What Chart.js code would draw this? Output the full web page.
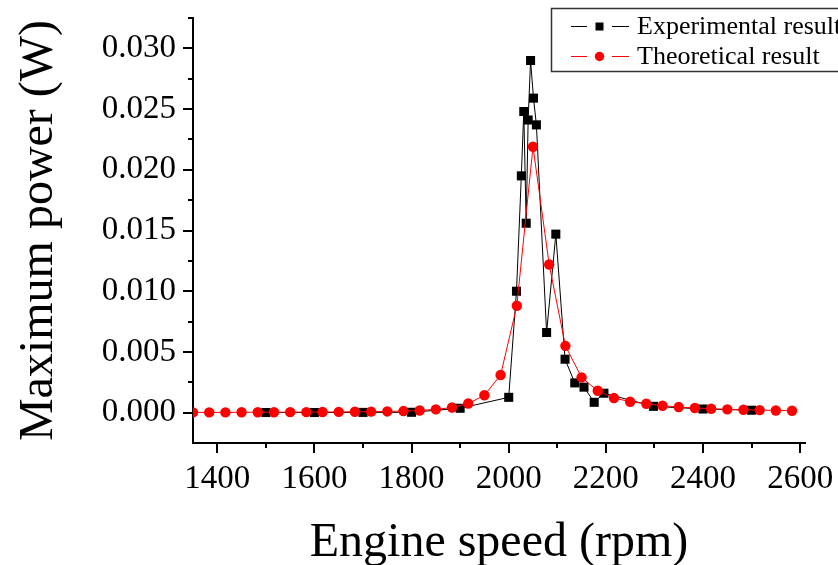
<!DOCTYPE html>
<html>
<head>
<meta charset="utf-8">
<script src="https://cdn.jsdelivr.net/npm/chart.js@4.4.0/dist/chart.umd.min.js"></script>
<style>
  html, body { margin: 0; padding: 0; background: #fff; }
  canvas { display: block; }
</style>
</head>
<body>
<canvas id="powerChart" width="838" height="565"></canvas>
<script>
// theoretical curve (red circles)
const theoSpeed = [1350, 1383.3, 1416.7, 1450, 1483.3, 1516.7, 1550, 1583.3, 1616.7, 1650,
    1683.3, 1716.7, 1750, 1783.3, 1816.7, 1850, 1883.3, 1916.7, 1950, 1983.3,
    2016.7, 2050, 2083.3, 2116.7, 2150, 2183.3, 2216.7, 2250, 2283.3, 2316.7,
    2350, 2383.3, 2416.7, 2450, 2483.3, 2516.7, 2550, 2583.3];
const theoPower = [0.00002, 0.00002, 0.00002, 0.00003, 0.00003, 0.00003, 0.00004, 0.00004, 0.00005, 0.00006,
    0.00007, 0.00008, 0.0001, 0.00013, 0.00018, 0.00027, 0.00042, 0.00075, 0.00143, 0.0031,
    0.0088, 0.0219, 0.0122, 0.0055, 0.0029, 0.0018, 0.0012, 0.0009, 0.00073, 0.00057,
    0.00046, 0.00038, 0.00032, 0.00027, 0.00024, 0.00021, 0.00018, 0.00016];

// experimental points (black squares)
const expSpeed = [1500, 1600, 1700, 1800, 1900, 2000, 2016, 2026, 2031, 2036,
    2040, 2045, 2051, 2057, 2078, 2097, 2116, 2136, 2155, 2176,
    2196, 2298, 2400, 2500];
const expPower = [0.00001, 0.00001, 0.00002, 0.00003, 0.00036, 0.00126, 0.0100, 0.0195, 0.0248, 0.0156,
    0.0241, 0.0290, 0.0259, 0.0237, 0.0066, 0.0147, 0.0044, 0.00245, 0.0021, 0.00085,
    0.0016, 0.00052, 0.0003, 0.0002];

const xMajorTicks = [1400, 1600, 1800, 2000, 2200, 2400, 2600];
const xMinorTicks = [1500, 1700, 1900, 2100, 2300, 2500];
const yMajorTicks = [0, 0.005, 0.010, 0.015, 0.020, 0.025, 0.030];
const yMinorTicks = [0.0025, 0.0075, 0.0125, 0.0175, 0.0225, 0.0275, 0.0325];

const serif = "'Liberation Serif', 'Times New Roman', serif";

// outward tick marks, long for major, short for minor
const tickMarks = {
    id: 'tickMarks',
    afterDraw(chart) {
        const ctx = chart.ctx;
        const area = chart.chartArea;
        const xs = chart.scales.x;
        const ys = chart.scales.y;
        ctx.save();
        ctx.strokeStyle = '#000';
        ctx.lineWidth = 2;
        ctx.beginPath();
        xMajorTicks.forEach(v => {
            const px = Math.round(xs.getPixelForValue(v));
            ctx.moveTo(px, area.bottom);
            ctx.lineTo(px, area.bottom + 10);
        });
        xMinorTicks.forEach(v => {
            const px = Math.round(xs.getPixelForValue(v));
            ctx.moveTo(px, area.bottom);
            ctx.lineTo(px, area.bottom + 5);
        });
        yMajorTicks.forEach(v => {
            const py = Math.round(ys.getPixelForValue(v));
            ctx.moveTo(area.left, py);
            ctx.lineTo(area.left - 10, py);
        });
        yMinorTicks.forEach(v => {
            const py = Math.round(ys.getPixelForValue(v));
            ctx.moveTo(area.left, py);
            ctx.lineTo(area.left - 5, py);
        });
        ctx.stroke();
        ctx.restore();
    }
};

// framed legend in the top right corner
const boxLegend = {
    id: 'boxLegend',
    afterDraw(chart) {
        const ctx = chart.ctx;
        ctx.save();
        ctx.strokeStyle = '#333';
        ctx.lineWidth = 1.5;
        ctx.strokeRect(551.5, 8.5, 320, 63);

        const rows = [
            { ds: chart.data.datasets[1], y: 26 },
            { ds: chart.data.datasets[0], y: 56 }
        ];
        rows.forEach(r => {
            ctx.strokeStyle = r.ds.borderColor;
            ctx.lineWidth = 1;
            ctx.beginPath();
            ctx.moveTo(571, r.y + 0.5);
            ctx.lineTo(587, r.y + 0.5);
            ctx.moveTo(612, r.y + 0.5);
            ctx.lineTo(629, r.y + 0.5);
            ctx.stroke();
            ctx.fillStyle = r.ds.backgroundColor;
            if (r.ds.pointStyle === 'rect') {
                ctx.fillRect(595.5, r.y - 3.5, 8, 8);
            } else {
                ctx.beginPath();
                ctx.arc(599.5, r.y + 0.5, 4.7, 0, Math.PI * 2);
                ctx.fill();
            }
            ctx.fillStyle = '#000';
            ctx.font = '26px ' + serif;
            ctx.textBaseline = 'middle';
            ctx.textAlign = 'left';
            ctx.fillText(r.ds.label, 637, r.y + 1);
        });
        ctx.restore();
    }
};

new Chart(document.getElementById('powerChart'), {
    type: 'line',
    data: {
        datasets: [
            {
                label: 'Theoretical result',
                data: theoSpeed.map((s, i) => ({ x: s, y: theoPower[i] })),
                borderColor: '#ff0000',
                backgroundColor: '#ff0000',
                borderWidth: 1,
                pointStyle: 'circle',
                pointRadius: 5.2,
                pointBorderWidth: 0,
                tension: 0,
                order: 0
            },
            {
                label: 'Experimental result',
                data: expSpeed.map((s, i) => ({ x: s, y: expPower[i] })),
                borderColor: '#000000',
                backgroundColor: '#000000',
                borderWidth: 1,
                pointStyle: 'rect',
                pointRadius: 6.4,
                pointBorderWidth: 0,
                tension: 0,
                order: 1
            }
        ]
    },
    options: {
        responsive: false,
        animation: false,
        devicePixelRatio: 1,
        layout: { padding: { top: 18, right: 33, left: 0, bottom: 0 } },
        plugins: {
            legend: { display: false },
            tooltip: { enabled: false }
        },
        scales: {
            x: {
                type: 'linear',
                min: 1350,
                max: 2610,
                grid: { display: false, drawTicks: false, tickLength: 0 },
                border: { display: true, color: '#000', width: 2 },
                afterBuildTicks: scale => { scale.ticks = xMajorTicks.map(v => ({ value: v })); },
                afterFit: scale => {
                    scale.height = 122;
                    scale.paddingLeft = 0;
                    scale.paddingRight = 0;
                },
                ticks: {
                    color: '#000',
                    padding: 17,
                    maxRotation: 0,
                    font: { family: serif, size: 33 },
                    callback: v => String(v)
                },
                title: {
                    display: true,
                    text: 'Engine speed (rpm)',
                    color: '#000',
                    padding: { top: 0, bottom: 0 },
                    font: { family: serif, size: 48, lineHeight: 0.9 }
                }
            },
            y: {
                type: 'linear',
                min: -0.0025,
                max: 0.0325,
                grid: { display: false, drawTicks: false, tickLength: 0 },
                border: { display: true, color: '#000', width: 2 },
                afterBuildTicks: scale => { scale.ticks = yMajorTicks.map(v => ({ value: v })); },
                afterFit: scale => {
                    scale.width = 193;
                    scale.paddingTop = 0;
                    scale.paddingBottom = 0;
                },
                ticks: {
                    color: '#000',
                    padding: 17,
                    font: { family: serif, size: 33 },
                    callback: v => Number(v).toFixed(3)
                },
                title: {
                    display: true,
                    text: 'Maximum power (W)',
                    color: '#000',
                    padding: { top: 15, bottom: 0 },
                    font: { family: serif, size: 48, lineHeight: 1 }
                }
            }
        }
    },
    plugins: [tickMarks, boxLegend]
});
</script>
</body>
</html>
